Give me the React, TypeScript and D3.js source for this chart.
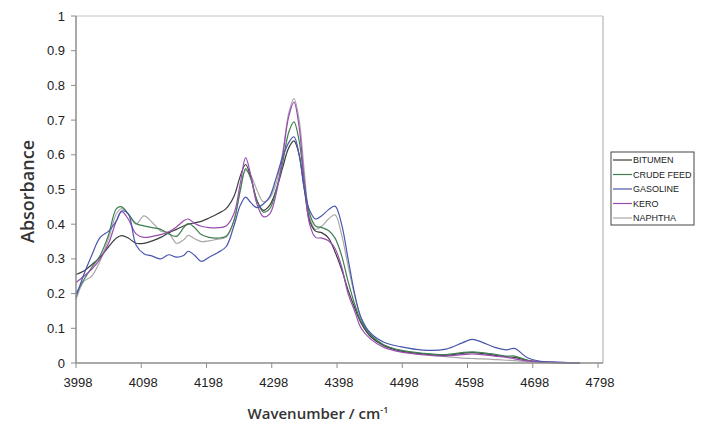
import React from "react";
import * as d3 from "d3";

const wavenumbers = [
  3998, 4010, 4022, 4035, 4048, 4060, 4068, 4078, 4090, 4102, 4115, 4128, 4140, 4152, 4163, 4170, 4180, 4190, 4202, 4215,
  4228, 4240, 4250, 4258, 4266, 4275, 4285, 4295, 4305, 4315, 4324, 4332, 4340, 4348, 4356, 4365, 4375, 4385, 4395, 4405,
  4415, 4425, 4435, 4450, 4470, 4495, 4530, 4565, 4590, 4605, 4620, 4640, 4658, 4670, 4690, 4710, 4740, 4770,
];

const bitumen = [
  0.255, 0.265, 0.283, 0.305, 0.335, 0.36, 0.367, 0.36, 0.345, 0.345, 0.352, 0.362, 0.375, 0.385, 0.395, 0.4, 0.404, 0.408, 0.418, 0.43,
  0.445, 0.48, 0.54, 0.572, 0.535, 0.47, 0.44, 0.455, 0.5, 0.565, 0.62, 0.64, 0.6, 0.5, 0.41, 0.38, 0.375, 0.36, 0.32, 0.27,
  0.21, 0.16, 0.115, 0.075, 0.05, 0.035, 0.026, 0.022, 0.028, 0.03, 0.028, 0.022, 0.018, 0.016, 0.008, 0.003, 0.001, 0.0,
];

const crudeFeed = [
  0.2, 0.24, 0.275, 0.31, 0.37, 0.445, 0.45, 0.43, 0.402, 0.395, 0.39, 0.385, 0.372, 0.365, 0.39, 0.402, 0.39, 0.37, 0.362, 0.36,
  0.365, 0.41, 0.5, 0.56, 0.53, 0.47, 0.435, 0.445, 0.5, 0.58, 0.665, 0.695, 0.64, 0.52, 0.43, 0.395, 0.39, 0.382, 0.36, 0.31,
  0.235, 0.17, 0.12, 0.08, 0.052, 0.037, 0.028, 0.024, 0.03, 0.032, 0.03, 0.025, 0.02, 0.02, 0.008, 0.003, 0.001, 0.0,
];

const gasoline = [
  0.19, 0.255, 0.31, 0.362, 0.38, 0.41, 0.438, 0.43, 0.34, 0.315, 0.308, 0.3, 0.312, 0.305, 0.31, 0.322, 0.31, 0.293, 0.305, 0.318,
  0.335, 0.395, 0.455, 0.478, 0.462, 0.448, 0.458, 0.48, 0.535, 0.595, 0.635, 0.652, 0.6, 0.5, 0.44, 0.415, 0.425, 0.442, 0.452, 0.4,
  0.3, 0.2, 0.13, 0.085, 0.06, 0.047, 0.037, 0.04, 0.058, 0.068, 0.06, 0.045, 0.038, 0.042, 0.015, 0.005, 0.002, 0.0,
];

const kero = [
  0.232, 0.25, 0.27, 0.3, 0.345, 0.41, 0.436, 0.415, 0.372, 0.362, 0.365, 0.37, 0.378, 0.392, 0.41, 0.415, 0.402, 0.394, 0.39, 0.39,
  0.395, 0.43, 0.52, 0.592, 0.54, 0.46, 0.422, 0.43, 0.49, 0.6, 0.71, 0.752, 0.68, 0.52, 0.4, 0.362, 0.36, 0.352, 0.33, 0.278,
  0.2, 0.15, 0.1, 0.068, 0.045, 0.032, 0.024, 0.02, 0.024, 0.026, 0.024, 0.02, 0.016, 0.012, 0.006, 0.003, 0.002, 0.0,
];

const naphtha = [
  0.182, 0.235, 0.25, 0.295, 0.36, 0.43, 0.445, 0.43, 0.4, 0.424, 0.405, 0.38, 0.375, 0.345, 0.355, 0.368, 0.358, 0.35, 0.352, 0.357,
  0.362, 0.41, 0.5, 0.555, 0.54, 0.5, 0.465, 0.475, 0.52, 0.61, 0.72, 0.762, 0.7, 0.55, 0.42, 0.385, 0.395, 0.415, 0.427, 0.37,
  0.28, 0.195, 0.13, 0.08, 0.052, 0.035, 0.024, 0.018, 0.014, 0.013, 0.012, 0.01, 0.008, 0.007, 0.004, 0.002, 0.001, 0.0,
];

const seriesNames = ["BITUMEN", "CRUDE FEED", "GASOLINE", "KERO", "NAPHTHA"];
const seriesValues = [bitumen, crudeFeed, gasoline, kero, naphtha];
const seriesColors = ["#3d3d3d", "#3f7f52", "#4a56ad", "#9a4cb0", "#a9a9a9"];

const xTicks = [3998, 4098, 4198, 4298, 4398, 4498, 4598, 4698, 4798];
const yTicks = [0, 0.1, 0.2, 0.3, 0.4, 0.5, 0.6, 0.7, 0.8, 0.9, 1];

export default function App() {
  const left = 76, right = 598, top = 16, bottom = 363, frameRight = 603;
  const x = d3.scaleLinear().domain([3998, 4798]).range([left, right]);
  const y = d3.scaleLinear().domain([0, 1]).range([bottom, top]);
  const line = d3
    .line<number>()
    .x((_, i) => x(wavenumbers[i]))
    .y((d) => y(d))
    .curve(d3.curveCatmullRom.alpha(0.5));

  const axisColor = "#8c8c8c";
  const font = "'Liberation Sans', Arial, sans-serif";
  const titleFont = "'Open Sans', 'Noto Sans', sans-serif";

  const order = [4, 0, 1, 3, 2];

  return (
    <svg width={702} height={427} style={{ position: "absolute", left: 0, top: 0, background: "#fff" }}>
      <rect x={0} y={0} width={702} height={427} fill="#fff" />
      {/* frame */}
      <line x1={left} y1={top} x2={frameRight} y2={top} stroke="#c4c4c4" strokeWidth={1} />
      <line x1={frameRight} y1={top} x2={frameRight} y2={bottom} stroke="#c4c4c4" strokeWidth={1.5} />
      {/* series */}
      {order.map((k) => (
        <path key={seriesNames[k]} d={line(seriesValues[k]) || ""} fill="none" stroke={seriesColors[k]} strokeWidth={1.2} />
      ))}
      {/* axes */}
      <line x1={left} y1={top} x2={left} y2={bottom} stroke={axisColor} strokeWidth={1.5} />
      <line x1={left} y1={bottom} x2={frameRight} y2={bottom} stroke={axisColor} strokeWidth={1.5} />
      {yTicks.map((t) => (
        <g key={"y" + t}>
          <line x1={left - 5} x2={left} y1={y(t)} y2={y(t)} stroke={axisColor} strokeWidth={1} />
          <text x={left - 11} y={y(t)} dy="0.35em" textAnchor="end" fontFamily={font} fontSize={13} fill="#222">
            {String(t)}
          </text>
        </g>
      ))}
      {xTicks.map((t) => (
        <g key={"x" + t}>
          <line x1={x(t)} x2={x(t)} y1={bottom} y2={bottom + 5} stroke={axisColor} strokeWidth={1} />
          <text x={x(t) + 2} y={bottom + 24} textAnchor="middle" fontFamily={font} fontSize={13} fill="#222">
            {String(t)}
          </text>
        </g>
      ))}
      {/* axis titles */}
      <text
        transform={`translate(34,${(top + bottom) / 2 + 2}) rotate(-90)`}
        textAnchor="middle"
        fontFamily={titleFont}
        fontWeight={600}
        fontSize={18}
        fill="#333"
      >
        Absorbance
      </text>
      <text x={318} y={419} textAnchor="middle" fontFamily={titleFont} fontWeight={600} fontSize={15} fill="#333">
        Wavenumber / cm<tspan dy={-6} fontSize={9}>-1</tspan>
      </text>
      {/* legend */}
      <rect x={611} y={152} width={83} height={73} fill="#fff" stroke="#444" strokeWidth={1} />
      {seriesNames.map((name, i) => {
        const ly = 160 + i * 14.5;
        return (
          <g key={name}>
            <line x1={613} x2={632} y1={ly} y2={ly} stroke={seriesColors[i]} strokeWidth={1.2} />
            <text x={633} y={ly} dy="0.35em" fontFamily={font} fontSize={9} fill="#222">
              {name}
            </text>
          </g>
        );
      })}
    </svg>
  );
}
